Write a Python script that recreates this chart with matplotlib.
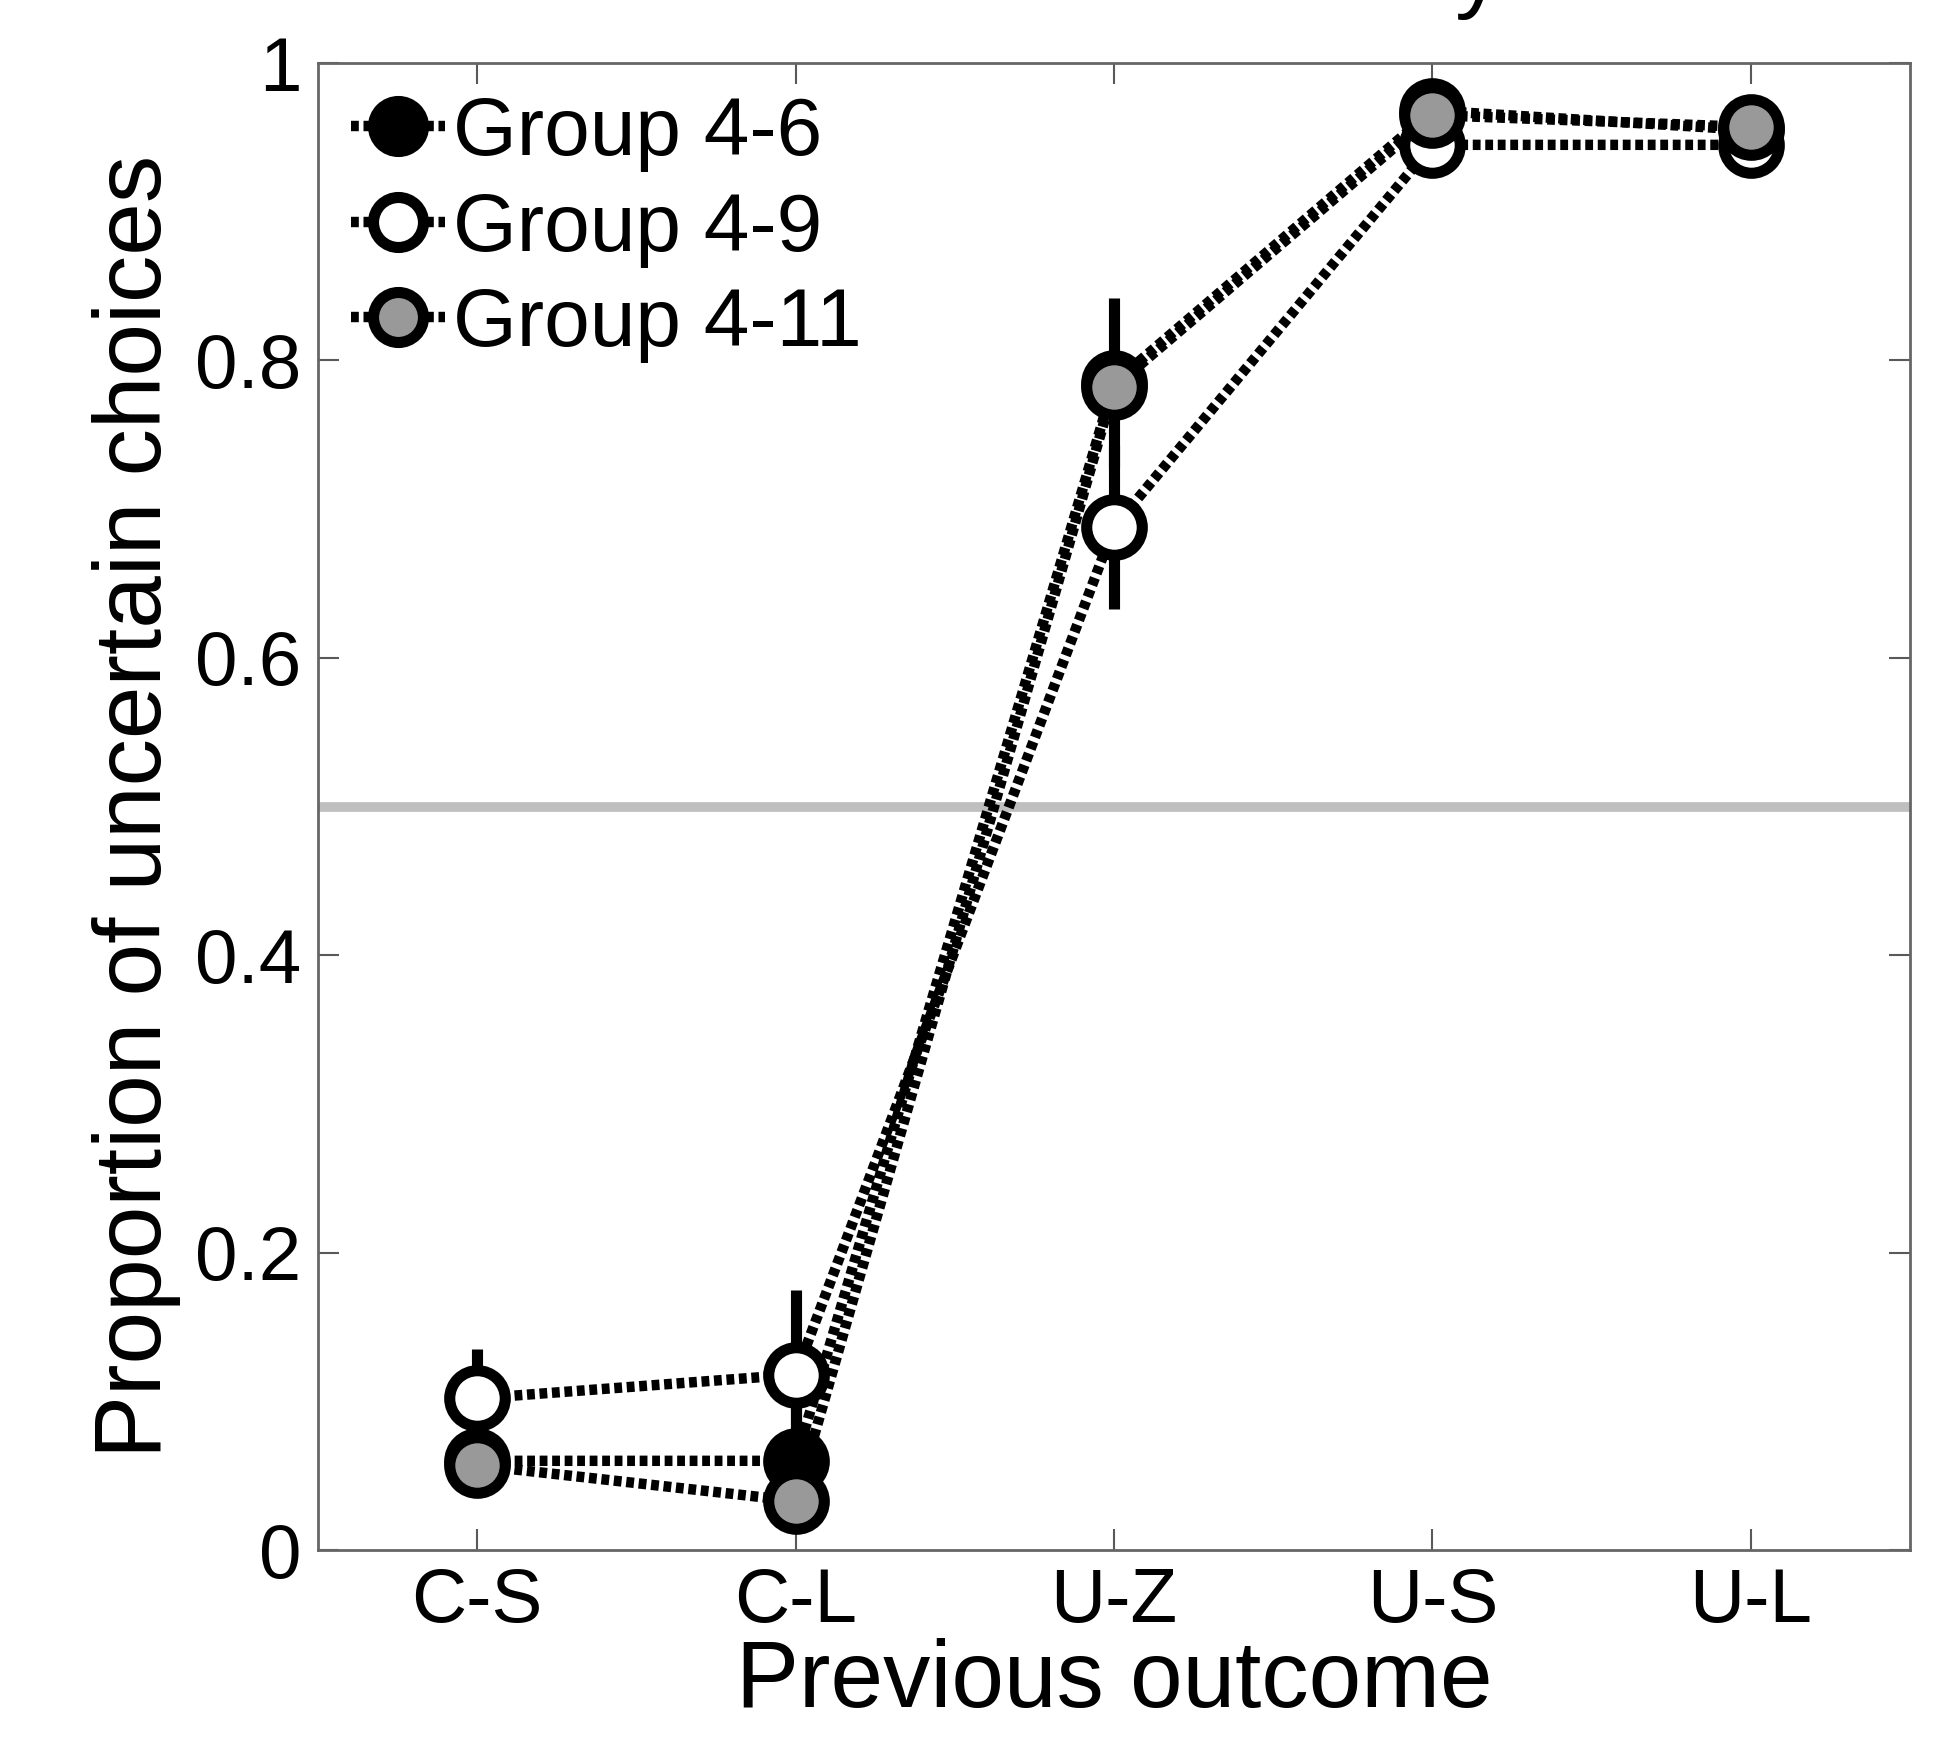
import matplotlib
matplotlib.use('Agg')
import matplotlib.pyplot as plt
import numpy as np

plt.rcParams['font.family'] = ['Liberation Sans', 'DejaVu Sans']

outcomes = ['C-S', 'C-L', 'U-Z', 'U-S', 'U-L']
groups = ['Group 4-6', 'Group 4-9', 'Group 4-11']
face_colors = ['black', 'white', '0.6']

# proportion of uncertain choices per previous outcome
g46 = [0.060, 0.060, 0.785, 0.968, 0.955]
g49 = [0.102, 0.118, 0.688, 0.945, 0.945]
g411 = [0.057, 0.033, 0.782, 0.965, 0.957]
# error bars (half length)
g46_err = [0.010, 0.040, 0.057, 0.010, 0.008]
g49_err = [0.033, 0.057, 0.055, 0.010, 0.008]
g411_err = [0.010, 0.010, 0.010, 0.008, 0.008]

means = [g46, g49, g411]
errs = [g46_err, g49_err, g411_err]
chance = 0.5

fs_tick = 55
fs_leg = 59
fs_lab = 68
ms = 40
mew = 8

fig = plt.figure(figsize=(19.34, 17.42), dpi=100)
ax = fig.add_axes([0.1644, 0.1102, 0.8232, 0.8536])

x = np.arange(1, len(outcomes) + 1)

ax.axhline(chance, color='0.75', lw=7, zorder=1)

for m, e in zip(means, errs):
    ax.errorbar(x, m, yerr=e, fmt='none', ecolor='k', elinewidth=8, capsize=0, zorder=2)

for i, (m, name) in enumerate(zip(means, groups)):
    ax.plot(x, m, ls=(0, (0.75, 0.45)), lw=7.5, color='k', marker='o', ms=ms,
            mfc=face_colors[i], mec='k', mew=mew, label=name, zorder=3 + i)

ax.set_xlim(0.5, 5.5)
ax.set_ylim(0, 1)
ax.set_xticks(x)
ax.set_xticklabels(outcomes)
ax.set_yticks([0, 0.2, 0.4, 0.6, 0.8, 1])
ax.set_yticklabels(['0', '0.2', '0.4', '0.6', '0.8', '1'])
ax.tick_params(direction='in', length=15, width=1.5, color='0.35', labelsize=fs_tick,
               top=True, right=True, pad=12)
for sp in ax.spines.values():
    sp.set_color('0.4')
    sp.set_linewidth(2)

ax.set_xlabel('Previous outcome', fontsize=fs_lab, labelpad=0)
ax.set_ylabel('Proportion of uncertain choices', fontsize=fs_lab, labelpad=10)

ax.legend(loc='upper left', frameon=False, fontsize=fs_leg, handlelength=1.15,
          handletextpad=0.1, labelspacing=0.24, markerscale=0.9,
          borderaxespad=0.2, borderpad=0.2)

# bottom of the clipped title
fig.text(0.752, 1.0, 'y', fontsize=fs_lab, va='baseline', ha='left')

fig.savefig('out.png', dpi=100)
